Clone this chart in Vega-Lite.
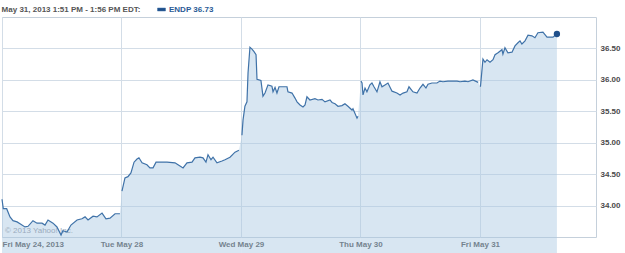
{
  "$schema": "https://vega.github.io/schema/vega-lite/v6.json",
  "width": 594,
  "height": 220,
  "autosize": {"type": "none"},
  "padding": {"left": 2, "top": 17, "right": 29, "bottom": 16},
  "background": "white",
  "title": {
    "text": "May 31, 2013 1:51 PM - 1:56 PM EDT:",
    "anchor": "start",
    "font": "Liberation Sans",
    "fontSize": 8,
    "fontWeight": "bold",
    "color": "#555555",
    "offset": 4,
    "dx": 2,
    "dy": 13
  },
  "config": {
    "view": {"stroke": "#c5d0db", "strokeWidth": 1},
    "axis": {
      "labelFont": "Liberation Sans",
      "labelFontSize": 8,
      "labelFontWeight": "bold",
      "labelColor": "#4a4a4a",
      "gridColor": "#d3dde7",
      "gridWidth": 1,
      "ticks": false,
      "domain": false,
      "title": null
    }
  },
  "datasets": {
    "mark": [{"label": "© 2013 Yahoo! Inc.", "t": 0.025, "p": 33.6}]
  },
  "data": {
    "values": [
      {"d": 1, "t": 0.000, "p": 34.10},
      {"d": 1, "t": 0.011, "p": 33.95},
      {"d": 1, "t": 0.039, "p": 33.95},
      {"d": 1, "t": 0.067, "p": 33.82},
      {"d": 1, "t": 0.092, "p": 33.76},
      {"d": 1, "t": 0.126, "p": 33.74},
      {"d": 1, "t": 0.151, "p": 33.71},
      {"d": 1, "t": 0.192, "p": 33.66},
      {"d": 1, "t": 0.218, "p": 33.67},
      {"d": 1, "t": 0.259, "p": 33.76},
      {"d": 1, "t": 0.293, "p": 33.72},
      {"d": 1, "t": 0.335, "p": 33.72},
      {"d": 1, "t": 0.360, "p": 33.69},
      {"d": 1, "t": 0.385, "p": 33.77},
      {"d": 1, "t": 0.427, "p": 33.72},
      {"d": 1, "t": 0.460, "p": 33.66},
      {"d": 1, "t": 0.494, "p": 33.53},
      {"d": 1, "t": 0.510, "p": 33.60},
      {"d": 1, "t": 0.544, "p": 33.58},
      {"d": 1, "t": 0.577, "p": 33.69},
      {"d": 1, "t": 0.628, "p": 33.77},
      {"d": 1, "t": 0.669, "p": 33.79},
      {"d": 1, "t": 0.695, "p": 33.82},
      {"d": 1, "t": 0.720, "p": 33.77},
      {"d": 1, "t": 0.762, "p": 33.83},
      {"d": 1, "t": 0.795, "p": 33.82},
      {"d": 1, "t": 0.837, "p": 33.88},
      {"d": 1, "t": 0.870, "p": 33.79},
      {"d": 1, "t": 0.904, "p": 33.80},
      {"d": 1, "t": 0.946, "p": 33.87},
      {"d": 1, "t": 0.987, "p": 33.87},
      {"d": 2, "t": 1.004, "p": 34.23},
      {"d": 2, "t": 1.029, "p": 34.44},
      {"d": 2, "t": 1.054, "p": 34.46},
      {"d": 2, "t": 1.079, "p": 34.52},
      {"d": 2, "t": 1.105, "p": 34.69},
      {"d": 2, "t": 1.130, "p": 34.74},
      {"d": 2, "t": 1.146, "p": 34.76},
      {"d": 2, "t": 1.172, "p": 34.68},
      {"d": 2, "t": 1.213, "p": 34.65},
      {"d": 2, "t": 1.238, "p": 34.60},
      {"d": 2, "t": 1.264, "p": 34.60},
      {"d": 2, "t": 1.289, "p": 34.69},
      {"d": 2, "t": 1.322, "p": 34.69},
      {"d": 2, "t": 1.381, "p": 34.69},
      {"d": 2, "t": 1.448, "p": 34.68},
      {"d": 2, "t": 1.473, "p": 34.65},
      {"d": 2, "t": 1.506, "p": 34.61},
      {"d": 2, "t": 1.515, "p": 34.60},
      {"d": 2, "t": 1.548, "p": 34.68},
      {"d": 2, "t": 1.590, "p": 34.69},
      {"d": 2, "t": 1.615, "p": 34.76},
      {"d": 2, "t": 1.657, "p": 34.77},
      {"d": 2, "t": 1.682, "p": 34.76},
      {"d": 2, "t": 1.707, "p": 34.69},
      {"d": 2, "t": 1.724, "p": 34.81},
      {"d": 2, "t": 1.749, "p": 34.73},
      {"d": 2, "t": 1.766, "p": 34.77},
      {"d": 2, "t": 1.799, "p": 34.68},
      {"d": 2, "t": 1.841, "p": 34.71},
      {"d": 2, "t": 1.866, "p": 34.73},
      {"d": 2, "t": 1.908, "p": 34.77},
      {"d": 2, "t": 1.950, "p": 34.85},
      {"d": 2, "t": 1.983, "p": 34.88},
      {"d": 3, "t": 2.008, "p": 35.12},
      {"d": 3, "t": 2.017, "p": 35.36},
      {"d": 3, "t": 2.033, "p": 35.58},
      {"d": 3, "t": 2.050, "p": 35.65},
      {"d": 3, "t": 2.059, "p": 36.11},
      {"d": 3, "t": 2.075, "p": 36.52},
      {"d": 3, "t": 2.092, "p": 36.49},
      {"d": 3, "t": 2.109, "p": 36.45},
      {"d": 3, "t": 2.126, "p": 36.40},
      {"d": 3, "t": 2.134, "p": 36.01},
      {"d": 3, "t": 2.167, "p": 35.99},
      {"d": 3, "t": 2.184, "p": 35.74},
      {"d": 3, "t": 2.201, "p": 35.79},
      {"d": 3, "t": 2.226, "p": 35.92},
      {"d": 3, "t": 2.259, "p": 35.90},
      {"d": 3, "t": 2.268, "p": 35.81},
      {"d": 3, "t": 2.285, "p": 35.88},
      {"d": 3, "t": 2.301, "p": 35.79},
      {"d": 3, "t": 2.318, "p": 35.89},
      {"d": 3, "t": 2.351, "p": 35.89},
      {"d": 3, "t": 2.385, "p": 35.89},
      {"d": 3, "t": 2.393, "p": 35.81},
      {"d": 3, "t": 2.427, "p": 35.79},
      {"d": 3, "t": 2.452, "p": 35.71},
      {"d": 3, "t": 2.469, "p": 35.65},
      {"d": 3, "t": 2.494, "p": 35.60},
      {"d": 3, "t": 2.519, "p": 35.57},
      {"d": 3, "t": 2.536, "p": 35.60},
      {"d": 3, "t": 2.552, "p": 35.73},
      {"d": 3, "t": 2.577, "p": 35.68},
      {"d": 3, "t": 2.619, "p": 35.70},
      {"d": 3, "t": 2.644, "p": 35.68},
      {"d": 3, "t": 2.678, "p": 35.69},
      {"d": 3, "t": 2.703, "p": 35.65},
      {"d": 3, "t": 2.745, "p": 35.68},
      {"d": 3, "t": 2.762, "p": 35.64},
      {"d": 3, "t": 2.787, "p": 35.62},
      {"d": 3, "t": 2.812, "p": 35.58},
      {"d": 3, "t": 2.845, "p": 35.59},
      {"d": 3, "t": 2.870, "p": 35.62},
      {"d": 3, "t": 2.895, "p": 35.58},
      {"d": 3, "t": 2.929, "p": 35.52},
      {"d": 3, "t": 2.937, "p": 35.54},
      {"d": 3, "t": 2.971, "p": 35.39},
      {"d": 3, "t": 2.979, "p": 35.42},
      {"d": 4, "t": 3.004, "p": 35.98},
      {"d": 4, "t": 3.013, "p": 35.95},
      {"d": 4, "t": 3.021, "p": 35.76},
      {"d": 4, "t": 3.038, "p": 35.87},
      {"d": 4, "t": 3.054, "p": 35.81},
      {"d": 4, "t": 3.079, "p": 35.92},
      {"d": 4, "t": 3.096, "p": 35.95},
      {"d": 4, "t": 3.113, "p": 35.89},
      {"d": 4, "t": 3.138, "p": 35.81},
      {"d": 4, "t": 3.163, "p": 35.97},
      {"d": 4, "t": 3.180, "p": 35.89},
      {"d": 4, "t": 3.205, "p": 35.92},
      {"d": 4, "t": 3.230, "p": 35.95},
      {"d": 4, "t": 3.264, "p": 35.82},
      {"d": 4, "t": 3.305, "p": 35.79},
      {"d": 4, "t": 3.331, "p": 35.76},
      {"d": 4, "t": 3.356, "p": 35.79},
      {"d": 4, "t": 3.389, "p": 35.81},
      {"d": 4, "t": 3.406, "p": 35.89},
      {"d": 4, "t": 3.439, "p": 35.81},
      {"d": 4, "t": 3.473, "p": 35.79},
      {"d": 4, "t": 3.498, "p": 35.87},
      {"d": 4, "t": 3.523, "p": 35.93},
      {"d": 4, "t": 3.548, "p": 35.87},
      {"d": 4, "t": 3.565, "p": 35.93},
      {"d": 4, "t": 3.598, "p": 35.95},
      {"d": 4, "t": 3.640, "p": 35.95},
      {"d": 4, "t": 3.665, "p": 35.98},
      {"d": 4, "t": 3.690, "p": 35.97},
      {"d": 4, "t": 3.732, "p": 35.98},
      {"d": 4, "t": 3.749, "p": 35.98},
      {"d": 4, "t": 3.808, "p": 35.98},
      {"d": 4, "t": 3.833, "p": 35.97},
      {"d": 4, "t": 3.874, "p": 35.98},
      {"d": 4, "t": 3.900, "p": 35.97},
      {"d": 4, "t": 3.941, "p": 36.00},
      {"d": 4, "t": 3.985, "p": 35.96},
      {"d": 5, "t": 4.004, "p": 35.89},
      {"d": 5, "t": 4.025, "p": 36.33},
      {"d": 5, "t": 4.042, "p": 36.28},
      {"d": 5, "t": 4.059, "p": 36.32},
      {"d": 5, "t": 4.084, "p": 36.28},
      {"d": 5, "t": 4.109, "p": 36.32},
      {"d": 5, "t": 4.126, "p": 36.40},
      {"d": 5, "t": 4.151, "p": 36.43},
      {"d": 5, "t": 4.184, "p": 36.48},
      {"d": 5, "t": 4.192, "p": 36.41},
      {"d": 5, "t": 4.209, "p": 36.51},
      {"d": 5, "t": 4.234, "p": 36.43},
      {"d": 5, "t": 4.268, "p": 36.44},
      {"d": 5, "t": 4.293, "p": 36.54},
      {"d": 5, "t": 4.318, "p": 36.59},
      {"d": 5, "t": 4.335, "p": 36.62},
      {"d": 5, "t": 4.351, "p": 36.57},
      {"d": 5, "t": 4.377, "p": 36.62},
      {"d": 5, "t": 4.402, "p": 36.71},
      {"d": 5, "t": 4.435, "p": 36.70},
      {"d": 5, "t": 4.460, "p": 36.67},
      {"d": 5, "t": 4.485, "p": 36.75},
      {"d": 5, "t": 4.527, "p": 36.76},
      {"d": 5, "t": 4.561, "p": 36.68},
      {"d": 5, "t": 4.586, "p": 36.68},
      {"d": 5, "t": 4.611, "p": 36.68},
      {"d": 5, "t": 4.644, "p": 36.73}
    ]
  },
  "encoding": {
    "x": {
      "field": "t",
      "type": "quantitative",
      "scale": {"domain": [0, 4.971], "nice": false, "zero": false},
      "axis": {
        "values": [0, 1, 2, 3, 4],
        "labelExpr": "['Fri May 24, 2013','Tue May 28','Wed May 29','Thu May 30','Fri May 31'][datum.value]",
        "labelPadding": 3,
        "labelAlign": {"condition": {"test": "datum.value == 0", "value": "left"}, "value": "center"}
      }
    },
    "y": {
      "field": "p",
      "type": "quantitative",
      "scale": {"domain": [33.5, 37], "nice": false, "zero": false},
      "axis": {
        "orient": "right",
        "values": [34, 34.5, 35, 35.5, 36, 36.5],
        "format": ".2f",
        "labelPadding": 4
      }
    }
  },
  "layer": [
    {
      "mark": {"type": "area", "color": "#a9c8e2", "opacity": 0.45},
      "encoding": {"detail": {"field": "d"}}
    },
    {
      "data": {"name": "mark"},
      "mark": {"type": "text", "align": "left", "baseline": "middle", "font": "Liberation Sans", "fontSize": 8, "color": "#9aabbd"},
      "encoding": {
        "text": {"field": "label"}
      }
    },
    {
      "mark": {"type": "line", "strokeWidth": 1.2},
      "encoding": {
        "detail": {"field": "d"},
        "color": {
          "datum": "ENDP",
          "scale": {"range": ["#3f72a8"]},
          "legend": {
            "orient": "none",
            "legendX": 155,
            "legendY": -12,
            "padding": 0,
            "title": null,
            "symbolType": "M -1 -0.375 L 1 -0.375 L 1 0.375 L -1 0.375 Z",
            "symbolSize": 64,
            "symbolFillColor": "#1f4f8a",
            "symbolStrokeColor": "#1f4f8a",
            "symbolStrokeWidth": 0.5,
            "labelExpr": "datum.label + ' 36.73'",
            "labelFont": "Liberation Sans",
            "labelFontSize": 8,
            "labelFontWeight": "bold",
            "labelColor": "#2a5a95",
            "labelOffset": 3
          }
        }
      }
    },
    {
      "transform": [{"filter": "datum.t >= 4.64"}],
      "mark": {"type": "point", "filled": true, "size": 40, "color": "#1f4f8a", "opacity": 1}
    }
  ]
}
